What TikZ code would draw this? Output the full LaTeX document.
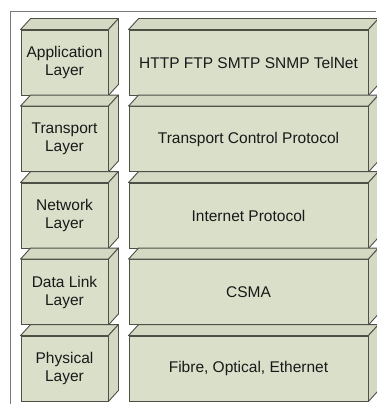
\documentclass[tikz,border=0pt]{standalone}
\usepackage{fontspec}
\setmainfont{Liberation Sans}
\definecolor{frontc}{HTML}{DADFCA}
\definecolor{sidec}{HTML}{D3D9C2}
\definecolor{edgec}{HTML}{4E5048}
\definecolor{framec}{HTML}{7A7A7A}
\tikzset{
  layerbox/.style={draw=edgec, line width=0.9pt, fill=frontc, inner sep=0pt, align=center,
    font=\fontsize{15.5}{18}\selectfont, text=black!90},
  leftbox/.style={layerbox, minimum width=87pt, minimum height=65pt},
  rightbox/.style={layerbox, minimum width=239pt, minimum height=65pt},
  face/.style={draw=edgec, line width=0.9pt, fill=sidec, line join=round},
}
\newcommand\cubefaces[1]{%
  \draw[face] (#1.north west) -- ++(10,-11) -- ([shift={(10pt,11pt)}]#1.north east) -- (#1.north east) -- cycle;
  \draw[face] (#1.north east) -- ([shift={(10pt,11pt)}]#1.north east) -- ([shift={(10pt,11pt)}]#1.south east) -- (#1.south east) -- cycle;
}
\begin{document}
\begin{tikzpicture}[x=1pt,y=-1pt]
\useasboundingbox (0,0) rectangle (376,404);
\draw[framec, line width=0.9pt] (10,404) -- (10,11) -- (376,11);
\foreach \n/\y/\l/\r in {a/30/{Application\\Layer}/{HTTP FTP SMTP SNMP TelNet},
                          t/106.5/{Transport\\Layer}/{Transport Control Protocol},
                          n/183/{Network\\Layer}/{Internet Protocol},
                          d/259.5/{Data Link\\Layer}/{CSMA},
                          p/336/{Physical\\Layer}/{Fibre, Optical, Ethernet}}{
  \node[leftbox] (\n L) at (64.5,\y+32.5) {\l};
  \cubefaces{\n L}
  \node[rightbox] (\n R) at (248.5,\y+32.5) {\r};
  \cubefaces{\n R}
}
\end{tikzpicture}
\end{document}
